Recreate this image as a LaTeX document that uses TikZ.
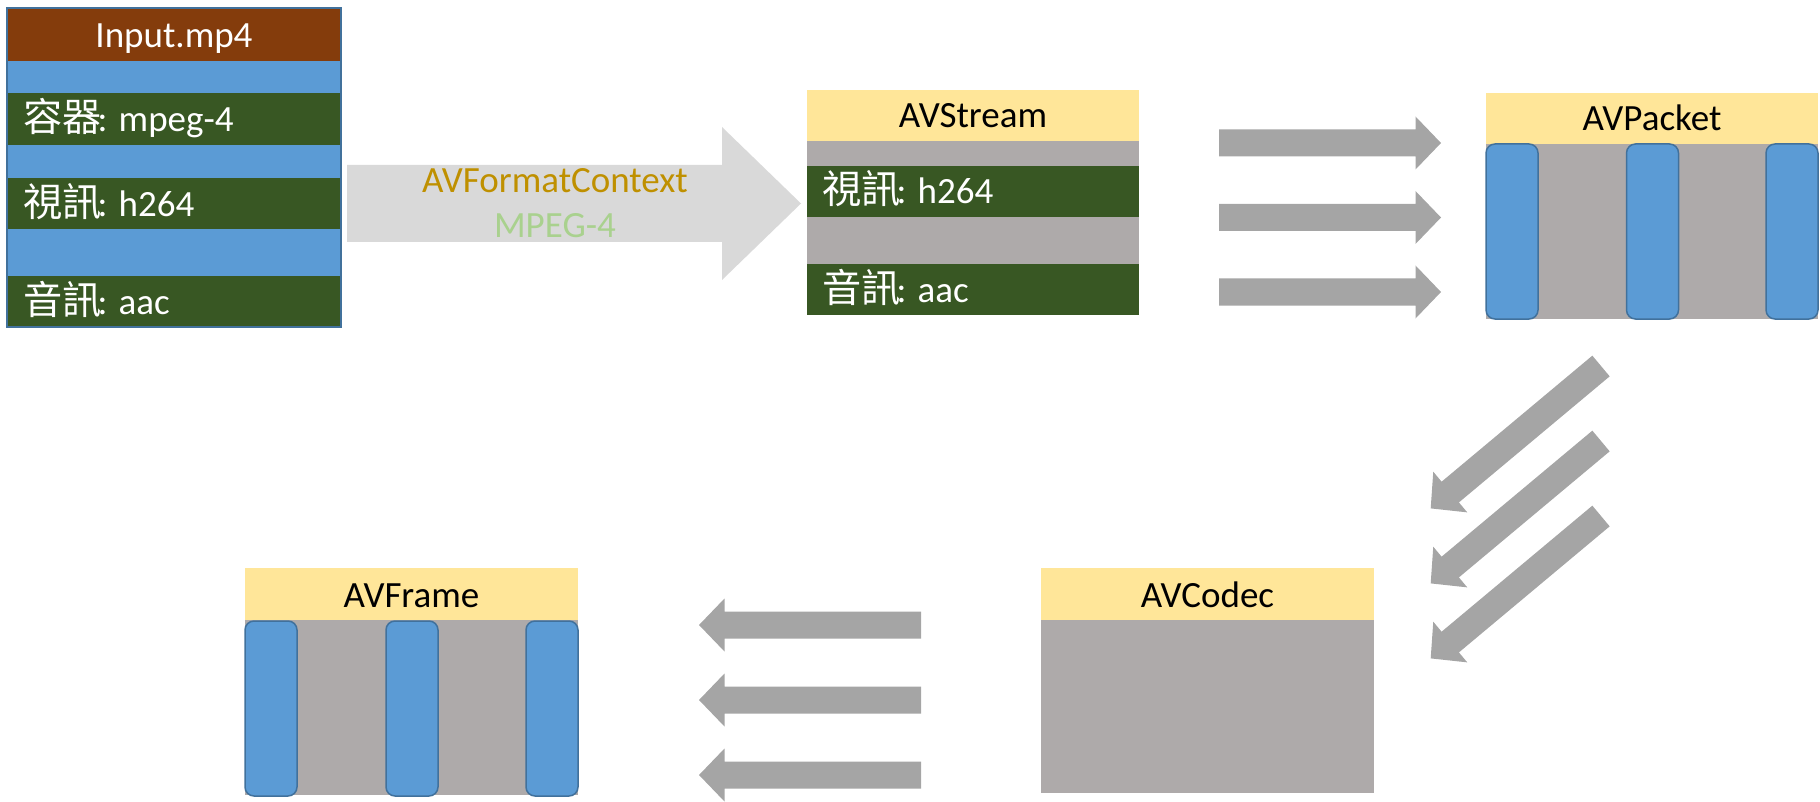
\documentclass[tikz,border=0pt]{standalone}
\usepackage{fontspec}
\setmainfont{Carlito}
\newfontfamily\cjk{Noto Sans CJK TC}[Scale=1.06]
\newcommand\cjkw[1]{{\cjk #1}\kern-4pt}
\definecolor{hdrbrown}{HTML}{843C0C}
\definecolor{bandblue}{HTML}{5B9BD5}
\definecolor{darkgreen}{HTML}{385723}
\definecolor{hdryellow}{HTML}{FFE699}
\definecolor{bodygrey}{HTML}{AEAAAA}
\definecolor{bigarrowgrey}{HTML}{D9D9D9}
\definecolor{arrowgrey}{HTML}{A5A5A5}
\definecolor{edgeblue}{HTML}{41719C}
\definecolor{goldtext}{HTML}{BF9000}
\definecolor{lgreentext}{HTML}{A9D18E}
\begin{document}
\begin{tikzpicture}[x=1pt,y=-1pt,
  band/.style={rectangle,draw=none,inner sep=0pt,outer sep=0pt,anchor=north west},
  barbox/.style={rectangle,fill=bandblue,draw=edgeblue,line width=1.5pt,rounded corners=9pt,
    inner sep=0pt,outer sep=0pt,anchor=north west,minimum width=52pt,minimum height=175pt},
  lbl/.style={font=\fontsize{37}{44}\selectfont,inner sep=0pt,anchor=base west,text=white},
  ttl/.style={font=\fontsize{37}{44}\selectfont,inner sep=0pt,anchor=base,text=black},
  pics/blockarrow/.style={code={
    \fill[arrowgrey] (0,-13.5) -- (196.5,-13.5) -- (196.5,-26.5) -- (222,0)
      -- (196.5,26.5) -- (196.5,13.5) -- (0,13.5) -- cycle;}}
]
\useasboundingbox (0,0) rectangle (1820,802);

% ---------- Input.mp4 ----------
\node[band,fill=hdrbrown,minimum width=334pt,minimum height=53pt] (inhdr) at (7,8) {};
\node[band,fill=bandblue,minimum width=334pt,minimum height=32pt] (inb1) at (7,61) {};
\node[band,fill=darkgreen,minimum width=334pt,minimum height=52pt] (ing1) at (7,93) {};
\node[band,fill=bandblue,minimum width=334pt,minimum height=33pt] (inb2) at (7,145) {};
\node[band,fill=darkgreen,minimum width=334pt,minimum height=51pt] (ing2) at (7,178) {};
\node[band,fill=bandblue,minimum width=334pt,minimum height=47pt] (inb3) at (7,229) {};
\node[band,fill=darkgreen,minimum width=334pt,minimum height=51pt] (ing3) at (7,276) {};
\draw[edgeblue,line width=1.5pt] (inhdr.north west) rectangle (ing3.south east);
\node[ttl,text=white] (intitle) at (174,48) {Input.mp4};
\node[lbl] (incont) at (23,132) {\cjkw{容器}: mpeg-4};
\node[lbl] (invid) at (23,217) {\cjkw{視訊}: h264};
\node[lbl] (inaud) at (23,314) {\cjkw{音訊}: aac};

% ---------- big arrow ----------
\fill[bigarrowgrey] (347,165) -- (722,165) -- (722,127) -- (801,203.5) -- (722,280)
  -- (722,242) -- (347,242) -- cycle;
\node[ttl,text=goldtext] (fmtctx) at (555,193) {AVFormatContext};
\node[ttl,text=lgreentext] (fmtname) at (555,238) {MPEG-4};

% ---------- AVStream ----------
\node[band,fill=hdryellow,minimum width=332pt,minimum height=51pt] (sthdr) at (807,90) {};
\node[band,fill=bodygrey,minimum width=332pt,minimum height=25pt] (stg1) at (807,141) {};
\node[band,fill=darkgreen,minimum width=332pt,minimum height=51pt] (stv) at (807,166) {};
\node[band,fill=bodygrey,minimum width=332pt,minimum height=47pt] (stg2) at (807,217) {};
\node[band,fill=darkgreen,minimum width=332pt,minimum height=51pt] (sta) at (807,264) {};
\node[ttl] (sttitle) at (973,127.5) {AVStream};
\node[lbl] (stvid) at (822,203.5) {\cjkw{視訊}: h264};
\node[lbl] (staud) at (822,302) {\cjkw{音訊}: aac};

% ---------- arrows to AVPacket ----------
\coordinate (ra1) at (1219,143);
\coordinate (ra2) at (1219,217.5);
\coordinate (ra3) at (1219,292);
\pic at (ra1) {blockarrow};
\pic at (ra2) {blockarrow};
\pic at (ra3) {blockarrow};

% ---------- AVPacket ----------
\node[band,fill=hdryellow,minimum width=332pt,minimum height=51pt] (pkhdr) at (1486,93) {};
\node[band,fill=bodygrey,minimum width=332pt,minimum height=175pt] (pkbody) at (1486,144) {};
\node[barbox] (pkbar1) at (1486,144) {};
\node[barbox] (pkbar2) at (1626.5,144) {};
\node[barbox] (pkbar3) at (1766,144) {};
\node[ttl] (pktitle) at (1652,131) {AVPacket};

% ---------- diagonal arrows ----------
\coordinate (da1) at (1601,366);
\coordinate (da2) at (1601,441);
\coordinate (da3) at (1601,516);
\pic[rotate=219.9] at (da1) {blockarrow};
\pic[rotate=219.9] at (da2) {blockarrow};
\pic[rotate=219.9] at (da3) {blockarrow};

% ---------- AVCodec ----------
\node[band,fill=hdryellow,minimum width=333pt,minimum height=52pt] (cdhdr) at (1041,568) {};
\node[band,fill=bodygrey,minimum width=333pt,minimum height=173pt] (cdbody) at (1041,620) {};
\node[ttl] (cdtitle) at (1207.5,607) {AVCodec};

% ---------- arrows to AVFrame ----------
\coordinate (la1) at (921,625);
\coordinate (la2) at (921,700);
\coordinate (la3) at (921,775);
\pic[rotate=180] at (la1) {blockarrow};
\pic[rotate=180] at (la2) {blockarrow};
\pic[rotate=180] at (la3) {blockarrow};

% ---------- AVFrame ----------
\node[band,fill=hdryellow,minimum width=333pt,minimum height=52pt] (frhdr) at (245,568) {};
\node[band,fill=bodygrey,minimum width=333pt,minimum height=175pt] (frbody) at (245,620) {};
\node[barbox] (frbar1) at (245,621) {};
\node[barbox] (frbar2) at (386,621) {};
\node[barbox] (frbar3) at (526,621) {};
\node[ttl] (frtitle) at (411.5,607) {AVFrame};
\end{tikzpicture}
\end{document}
